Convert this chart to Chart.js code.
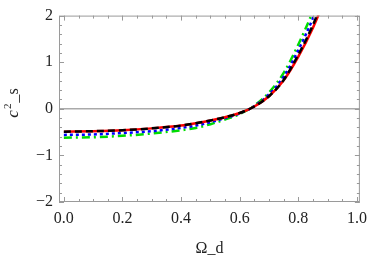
<!DOCTYPE html>
<html>
<head>
<meta charset="utf-8">
<script src="https://cdn.jsdelivr.net/npm/chart.js@4"></script>
<style>
  html, body { margin: 0; padding: 0; background: #fff; }
  #wrap { width: 374px; height: 258px; }
</style>
</head>
<body>
<div id="wrap"><canvas id="chart"></canvas></div>
<script>
// values
const omegaRed   = [0, 0.1, 0.2, 0.3, 0.4, 0.45, 0.5, 0.55, 0.6, 0.65, 0.7, 0.75, 0.8, 0.85, 0.875, 0.9];
const csRed      = [-0.49, -0.48, -0.46, -0.42, -0.36, -0.31, -0.25, -0.18, -0.09, 0.05, 0.27, 0.61, 1.12, 1.74, 2.12, 2.6];
const omegaBlack = [0, 0.1, 0.2, 0.3, 0.4, 0.45, 0.5, 0.55, 0.6, 0.65, 0.7, 0.75, 0.8, 0.85, 0.875, 0.9];
const csBlack    = [-0.49, -0.48, -0.46, -0.42, -0.36, -0.31, -0.25, -0.18, -0.09, 0.05, 0.27, 0.62, 1.16, 1.8, 2.2, 2.7];
const omegaBlue  = [0, 0.1, 0.2, 0.3, 0.4, 0.45, 0.5, 0.55, 0.6, 0.65, 0.7, 0.75, 0.8, 0.85, 0.87];
const csBlue     = [-0.56, -0.55, -0.52, -0.48, -0.41, -0.36, -0.29, -0.20, -0.10, 0.06, 0.31, 0.69, 1.26, 1.95, 2.3];
const omegaGreen = [0, 0.1, 0.2, 0.3, 0.4, 0.45, 0.5, 0.55, 0.6, 0.65, 0.7, 0.75, 0.8, 0.85, 0.87];
const csGreen    = [-0.62, -0.61, -0.58, -0.53, -0.46, -0.41, -0.33, -0.23, -0.11, 0.07, 0.35, 0.77, 1.38, 2.1, 2.45];
const xTicks = [0, 0.2, 0.4, 0.6, 0.8, 1.0];
const yTicks = [-2, -1, 0, 1, 2];

const pts = (xs, ys) => xs.map((x, i) => ({ x: x, y: ys[i] }));
const frameColor = '#9a9a9a';
const serif = 'Liberation Serif, Times New Roman, serif';

// frame with inward ticks, zero line, y label
const framePlugin = {
  id: 'frame',
  beforeDatasetsDraw(chart) {
    const { ctx, chartArea: a, scales: { x, y } } = chart;
    ctx.save();
    ctx.strokeStyle = '#aaaaaa';
    ctx.lineWidth = 1.5;
    ctx.beginPath();
    ctx.moveTo(a.left, y.getPixelForValue(0));
    ctx.lineTo(a.right, y.getPixelForValue(0));
    ctx.stroke();
    ctx.restore();
  },
  afterDraw(chart) {
    const { ctx, chartArea: a, scales: { x, y } } = chart;
    ctx.save();
    ctx.strokeStyle = frameColor;
    ctx.lineWidth = 1;
    ctx.strokeRect(a.left + 0.5, a.top + 0.5, a.right - a.left - 1, a.bottom - a.top - 1);
    ctx.beginPath();
    for (let i = 0; i <= 20; i++) {
      const v = i * 0.05;
      const px = Math.round(x.getPixelForValue(v)) + 0.5;
      const len = i % 4 === 0 ? 5 : 3;
      ctx.moveTo(px, a.bottom); ctx.lineTo(px, a.bottom - len);
      ctx.moveTo(px, a.top); ctx.lineTo(px, a.top + len);
    }
    for (let i = -10; i <= 10; i++) {
      const v = i * 0.2;
      const py = Math.round(y.getPixelForValue(v)) + 0.5;
      const len = i % 5 === 0 ? 5 : 3;
      ctx.moveTo(a.left, py); ctx.lineTo(a.left + len, py);
      ctx.moveTo(a.right, py); ctx.lineTo(a.right - len, py);
    }
    ctx.stroke();

    // y axis label c^2_s, rotated
    ctx.translate(14, 103);
    ctx.rotate(-Math.PI / 2);
    ctx.fillStyle = '#222';
    ctx.textBaseline = 'middle';
    ctx.font = 'italic 17px ' + serif;
    const wc = ctx.measureText('c').width;
    ctx.font = '11px ' + serif;
    const w2 = ctx.measureText('2').width;
    ctx.font = '16px ' + serif;
    const ws = ctx.measureText('_s').width;
    let cx = -(wc + w2 + 2 + ws) / 2;
    ctx.font = 'italic 17px ' + serif;
    ctx.fillText('c', cx, 0);
    cx += wc + 1;
    ctx.font = '11px ' + serif;
    ctx.fillText('2', cx, -6);
    cx += w2 + 1;
    ctx.font = '16px ' + serif;
    ctx.fillText('_s', cx, 0);
    ctx.restore();
  }
};

new Chart(document.getElementById('chart'), {
  type: 'line',
  data: {
    datasets: [
      { label: 'black', data: pts(omegaBlack, csBlack), borderColor: '#000', borderWidth: 2.5, borderDash: [7, 4], order: 1 },
      { label: 'red', data: pts(omegaRed, csRed), borderColor: '#ff0000', borderWidth: 2.5, order: 2 },
      { label: 'blue', data: pts(omegaBlue, csBlue), borderColor: '#0000ff', borderWidth: 2.5, borderDash: [3, 3], order: 3 },
      { label: 'green', data: pts(omegaGreen, csGreen), borderColor: '#00dd00', borderWidth: 2.5, borderDash: [8, 4, 2, 4], order: 4 }
    ]
  },
  options: {
    responsive: true,
    maintainAspectRatio: false,
    animation: false,
    layout: { padding: { top: 11, right: 5, left: 0, bottom: 0 } },
    elements: {
      point: { radius: 0 },
      line: { cubicInterpolationMode: 'monotone', fill: false }
    },
    plugins: { legend: { display: false }, tooltip: { enabled: false } },
    scales: {
      x: {
        type: 'linear',
        min: -0.0166,
        max: 1.01,
        afterBuildTicks: s => { s.ticks = xTicks.map(v => ({ value: v })); },
        afterFit: s => { s.height = 56; },
        grid: { display: false, drawTicks: false },
        border: { display: false },
        ticks: {
          padding: 7,
          color: '#222',
          font: { family: serif, size: 16 },
          maxRotation: 0,
          callback: v => v.toFixed(1)
        },
        title: { display: true, text: 'Ω_d', color: '#222', font: { family: serif, size: 16 }, padding: { top: 8, bottom: 0 } }
      },
      y: {
        type: 'linear',
        min: -2,
        max: 2,
        afterBuildTicks: s => { s.ticks = yTicks.map(v => ({ value: v })); },
        afterFit: s => { s.width = 59; },
        grid: { display: false, drawTicks: false },
        border: { display: false },
        ticks: {
          padding: 6,
          color: '#222',
          font: { family: serif, size: 16 },
          callback: v => String(v).replace('-', '\u2212')
        }
      }
    }
  },
  plugins: [framePlugin]
});
</script>
</body>
</html>
